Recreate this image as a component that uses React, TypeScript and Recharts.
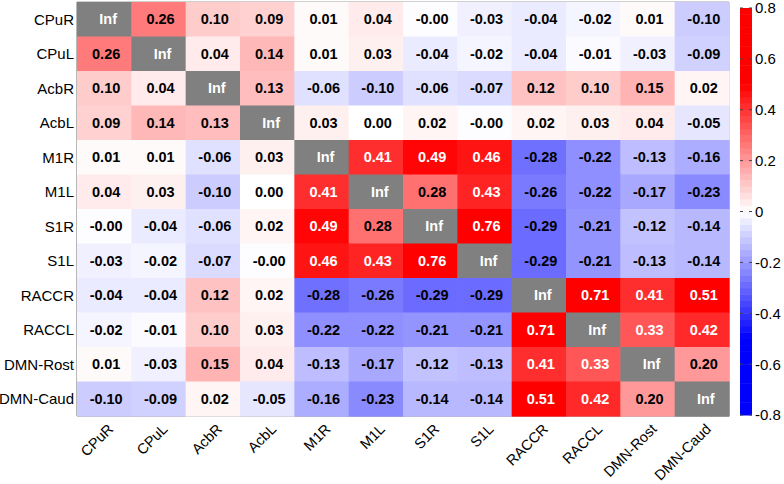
import React from 'react';
import { ScatterChart, Scatter, XAxis, YAxis, ReferenceArea } from 'recharts';

// region labels (rows top -> bottom, columns left -> right)
const regions = ['CPuR', 'CPuL', 'AcbR', 'AcbL', 'M1R', 'M1L', 'S1R', 'S1L', 'RACCR', 'RACCL', 'DMN-Rost', 'DMN-Caud'];

// correlation rows, null = diagonal ("Inf")
const cpuR = [null, 0.26, 0.1, 0.09, 0.01, 0.04, -0.004, -0.03, -0.04, -0.02, 0.01, -0.1];
const cpuL = [0.26, null, 0.04, 0.14, 0.01, 0.03, -0.04, -0.02, -0.04, -0.01, -0.03, -0.09];
const acbR = [0.1, 0.04, null, 0.13, -0.06, -0.1, -0.06, -0.07, 0.12, 0.1, 0.15, 0.02];
const acbL = [0.09, 0.14, 0.13, null, 0.03, 0.0, 0.02, -0.004, 0.02, 0.03, 0.04, -0.05];
const m1R = [0.01, 0.01, -0.06, 0.03, null, 0.41, 0.49, 0.46, -0.28, -0.22, -0.13, -0.16];
const m1L = [0.04, 0.03, -0.1, 0.0, 0.41, null, 0.28, 0.43, -0.26, -0.22, -0.17, -0.23];
const s1R = [-0.004, -0.04, -0.06, 0.02, 0.49, 0.28, null, 0.76, -0.29, -0.21, -0.12, -0.14];
const s1L = [-0.03, -0.02, -0.07, -0.004, 0.46, 0.43, 0.76, null, -0.29, -0.21, -0.13, -0.14];
const raccR = [-0.04, -0.04, 0.12, 0.02, -0.28, -0.26, -0.29, -0.29, null, 0.71, 0.41, 0.51];
const raccL = [-0.02, -0.01, 0.1, 0.03, -0.22, -0.22, -0.21, -0.21, 0.71, null, 0.33, 0.42];
const dmnRost = [0.01, -0.03, 0.15, 0.04, -0.13, -0.17, -0.12, -0.13, 0.41, 0.33, null, 0.2];
const dmnCaud = [-0.1, -0.09, 0.02, -0.05, -0.16, -0.23, -0.14, -0.14, 0.51, 0.42, 0.2, null];

const matrixRows = [cpuR, cpuL, acbR, acbL, m1R, m1L, s1R, s1L, raccR, raccL, dmnRost, dmnCaud];

// colorbar
const colorbarTicks = [0.8, 0.6, 0.4, 0.2, 0, -0.2, -0.4, -0.6, -0.8];
const CMAP_MIN = -0.8;
const CMAP_MAX = 0.8;
const CMAP_LEVELS = 64;

const FONT = '"Liberation Sans", Arial, sans-serif';
const W = 784;
const H = 484;
const MARGIN = { top: 2, right: 55, bottom: 2, left: 2 };
const Y_AXIS_W = 75;
const X_AXIS_H = 66;
const plotW = W - MARGIN.left - MARGIN.right - Y_AXIS_W;
const plotH = H - MARGIN.top - MARGIN.bottom - X_AXIS_H;
const plotBottom = MARGIN.top + plotH;
const cellW = plotW / regions.length;
const cellH = plotH / regions.length;
const idx = regions.map((_, i) => i);

function heatColor(v: number) {
  const w = Math.max(0, 1 - Math.abs(v) / 0.5);
  const c = Math.round(255 * w);
  return v >= 0 ? `rgb(255,${c},${c})` : `rgb(${c},${c},255)`;
}

const cells = matrixRows.flatMap((row, i) => row.map((v, j) => ({ col: j, row: i, v })));

const HeatCell = (props: any) => {
  const { cx, cy, payload } = props;
  const inf = payload.v === null;
  const fill = inf ? '#808080' : heatColor(payload.v);
  const label = inf ? 'Inf' : payload.v.toFixed(2);
  const light = inf || payload.v > 0.3;
  return (
    <g>
      <rect x={cx - cellW / 2} y={cy - cellH / 2} width={cellW + 0.6} height={cellH + 0.6} fill={fill} />
      <text
        x={cx + (inf ? 4 : 2)}
        y={cy}
        dy="0.36em"
        textAnchor="middle"
        fontFamily={FONT}
        fontWeight="bold"
        fontSize={14.5}
        fill={light ? '#fff' : '#000'}
      >
        {label}
      </text>
    </g>
  );
};

// rotated column labels; anchor is the baseline end of each label
const XTick = (props: any) => {
  const { x, payload } = props;
  const ax = x + 10;
  const ay = plotBottom + 14;
  return (
    <text
      x={ax}
      y={ay}
      transform={`rotate(-45 ${ax} ${ay})`}
      textAnchor="end"
      fontFamily={FONT}
      fontSize={14.5}
      fill="#000"
    >
      {regions[payload.value]}
    </text>
  );
};

const Colorbar = () => {
  const x0 = 740;
  const bw = 12;
  const top = 8;
  const bottom = 415;
  const sy = (v: number) => top + ((CMAP_MAX - v) / (CMAP_MAX - CMAP_MIN)) * (bottom - top);
  const step = (CMAP_MAX - CMAP_MIN) / CMAP_LEVELS;
  const bands = Array.from({ length: CMAP_LEVELS }, (_, k) => CMAP_MIN + k * step);
  return (
    <svg width={W} height={H} style={{ position: 'absolute', left: 0, top: 0, pointerEvents: 'none' }}>
      {bands.map((b) => (
        <rect key={b} x={x0} y={sy(b + step)} width={bw} height={sy(b) - sy(b + step) + 0.5} fill={heatColor(b + step / 2)} />
      ))}
      {colorbarTicks.map((t) => (
        <g key={t}>
          <line x1={x0} x2={x0 + 3} y1={sy(t)} y2={sy(t)} stroke="#444" strokeWidth={1} />
          <line x1={x0 + bw - 3} x2={x0 + bw} y1={sy(t)} y2={sy(t)} stroke="#444" strokeWidth={1} />
          <text x={x0 + bw + 3} y={sy(t)} dy="0.36em" fontFamily={FONT} fontSize={15} fill="#000">
            {t === 0 ? '0' : t.toFixed(1)}
          </text>
        </g>
      ))}
    </svg>
  );
};

export default function App() {
  return (
    <div style={{ position: 'absolute', left: 0, top: 0, width: W, height: H, background: '#fff' }}>
      <ScatterChart width={W} height={H} margin={MARGIN}>
        <XAxis
          type="number"
          dataKey="col"
          domain={[-0.5, regions.length - 0.5]}
          ticks={idx}
          interval={0}
          tick={<XTick />}
          tickLine={false}
          axisLine={{ stroke: '#a0a0a0' }}
          height={X_AXIS_H}
        />
        <YAxis
          type="number"
          dataKey="row"
          domain={[-0.5, regions.length - 0.5]}
          ticks={idx}
          interval={0}
          reversed
          width={Y_AXIS_W}
          tickLine={false}
          tickSize={0}
          tickMargin={3}
          axisLine={{ stroke: '#a0a0a0' }}
          tickFormatter={(i: number) => regions[i]}
          tick={{ fontFamily: FONT, fontSize: 15, fill: '#000' }}
        />
        <Scatter data={cells} shape={<HeatCell />} isAnimationActive={false} />
        <ReferenceArea
          x1={-0.5}
          x2={regions.length - 0.5}
          y1={-0.5}
          y2={regions.length - 0.5}
          fill="none"
          stroke="#a0a0a0"
          ifOverflow="visible"
        />
      </ScatterChart>
      <Colorbar />
    </div>
  );
}
